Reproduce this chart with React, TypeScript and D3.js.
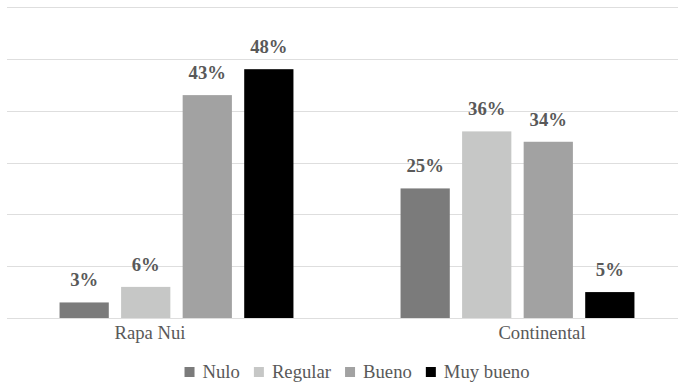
import React from 'react'
import * as d3 from 'd3'

const WIDTH = 678
const HEIGHT = 384

const categories = ['Rapa Nui', 'Continental']
const series = ['Nulo', 'Regular', 'Bueno', 'Muy bueno']
const colors = ['#7b7b7b', '#c6c7c6', '#a2a2a2', '#000000']
const rapaNui = [3, 6, 43, 48]
const continental = [25, 36, 34, 5]
const yTicks = [0, 10, 20, 30, 40, 50, 60]

const FONT = 'Liberation Serif'
const TEXT = '#595959'

// text width for the legend layout
const measure = (s: string, size: number) => {
  const ctx = document.createElement('canvas').getContext('2d')!
  ctx.font = `${size}px "Liberation Serif"`
  return ctx.measureText(s).width
}

export default function App() {
  const rows = [rapaNui, continental]

  const x0 = d3.scaleBand().domain(categories).range([6, 688])
  const x1 = d3.scaleBand()
    .domain(series)
    .range([0, x0.bandwidth()])
    .paddingInner(0.2)
    .paddingOuter(0.87)
  const y = d3.scaleLinear().domain([0, 60]).range([318, 7])

  // category labels are slightly off-centre in the original
  const labelShift = [-26.5, 24.5]

  const GAP = 14
  const widths = series.map((s) => measure(s, 18.7))
  const itemW = widths.map((w) => 18 + w)
  const total = d3.sum(itemW) + GAP * (series.length - 1)
  let cursor = 357 - total / 2
  const legendX = itemW.map((w) => {
    const p = cursor
    cursor += w + GAP
    return p
  })

  return (
    <svg
      width={WIDTH}
      height={HEIGHT}
      style={{ display: 'block', position: 'absolute', left: 0, top: 0, background: '#fff' }}
    >
      {yTicks.map((t) => (
        <line
          key={t}
          x1={7}
          x2={WIDTH}
          y1={Math.round(y(t)) + 0.5}
          y2={Math.round(y(t)) + 0.5}
          stroke="#dedede"
          strokeWidth={1.2}
        />
      ))}

      {categories.map((c, i) => (
        <g key={c} transform={`translate(${x0(c)},0)`}>
          {rows[i].map((v, j) => (
            <rect
              key={series[j]}
              x={x1(series[j])}
              width={x1.bandwidth()}
              y={y(v)}
              height={y(0) - y(v)}
              fill={colors[j]}
            />
          ))}
          {rows[i].map((v, j) => (
            <text
              key={series[j]}
              x={x1(series[j])! + x1.bandwidth() / 2}
              y={y(v) - 16}
              textAnchor="middle"
              fontFamily={FONT}
              fontWeight="bold"
              fontSize={18.7}
              fill={TEXT}
            >
              {`${v}%`}
            </text>
          ))}
        </g>
      ))}

      {categories.map((c, i) => (
        <text
          key={c}
          x={x0(c)! + x0.bandwidth() / 2 + labelShift[i]}
          y={339}
          textAnchor="middle"
          fontFamily={FONT}
          fontSize={18.7}
          fill={TEXT}
        >
          {c}
        </text>
      ))}

      {series.map((s, i) => (
        <g key={s} transform={`translate(${legendX[i]},0)`}>
          <rect y={367} width={10} height={10} fill={colors[i]} />
          <text x={18} y={378} fontFamily={FONT} fontSize={18.7} fill={TEXT}>
            {s}
          </text>
        </g>
      ))}
    </svg>
  )
}
